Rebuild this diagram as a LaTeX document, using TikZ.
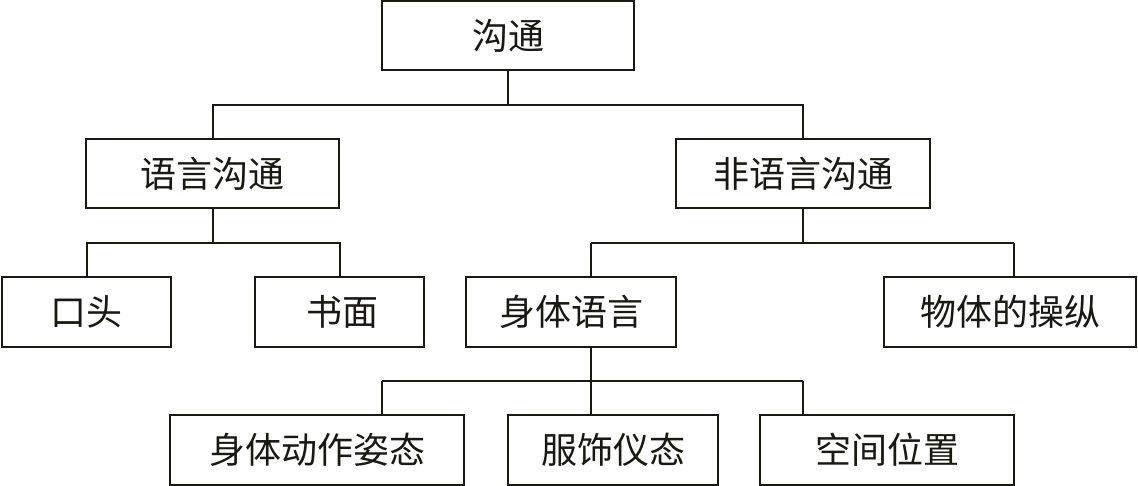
\documentclass[tikz,border=0pt]{standalone}
\usepackage{fontspec}
\newfontfamily\cjk{Noto Sans CJK SC}
\definecolor{ink}{rgb}{0.1,0.1,0.07}
\begin{document}
\begin{tikzpicture}[x=0.5pt,y=-0.5pt,
  box/.style={draw=ink,line width=1.1pt,fill=white,rectangle,inner sep=0pt,
    text=ink,font=\cjk\fontsize{18pt}{20pt}\selectfont},
  conn/.style={draw=ink,line width=1pt}]
\useasboundingbox (0,0) rectangle (1138,486);
\fill[white] (0,0) rectangle (1138,486);
% nodes
\node[box,minimum width=126pt,minimum height=34.5pt] (top) at (508,35.5) {沟通};
\node[box,minimum width=126.5pt,minimum height=34.5pt] (l1) at (212.5,173.5) {语言沟通};
\node[box,minimum width=127pt,minimum height=34.5pt] (r1) at (803,173.5) {非语言沟通};
\node[box,minimum width=84.5pt,minimum height=35pt] (kt) at (86.5,312) {口头};
\node[box,minimum width=84.5pt,minimum height=35pt] (sm) at (339.5,312) {\hspace{3pt}书面};
\node[box,minimum width=105pt,minimum height=35pt] (st) at (571,312) {身体语言};
\node[box,minimum width=126pt,minimum height=35pt] (wt) at (1010,312) {物体的操纵};
\node[box,minimum width=147pt,minimum height=35pt] (b1) at (317,450) {身体动作姿态};
\node[box,minimum width=105pt,minimum height=35pt] (b2) at (613,450) {服饰仪态};
\node[box,minimum width=127pt,minimum height=35pt] (b3) at (887,450) {空间位置};
% junction coordinates
\coordinate (j0) at (508,105);
\coordinate (j1) at (212.5,243);
\coordinate (j2) at (803,243);
\coordinate (j2a) at (591,243);
\coordinate (j2b) at (1014,243);
\coordinate (s3) at (591,346);
\coordinate (j3) at (591,381);
\coordinate (j3a) at (382,381);
\coordinate (j3b) at (803,381);
% connectors
\draw[conn] (top.south) -- (j0);
\draw[conn] (l1.north) |- (j0) -| (r1.north);
\draw[conn] (l1.south) -- (j1);
\draw[conn] (kt.north) |- (j1) -| (sm.north);
\draw[conn] (r1.south) -- (j2);
\draw[conn] (j2a) -- (j2b);
\draw[conn] (j2a) -- (j2a |- st.north);
\draw[conn] (j2b) -- (j2b |- wt.north);
\draw[conn] (s3) -- (j3);
\draw[conn] (j3a) -- (j3b);
\draw[conn] (j3a) -- (j3a |- b1.north);
\draw[conn] (j3) -- (j3 |- b2.north);
\draw[conn] (j3b) -- (j3b |- b3.north);
\end{tikzpicture}
\end{document}
